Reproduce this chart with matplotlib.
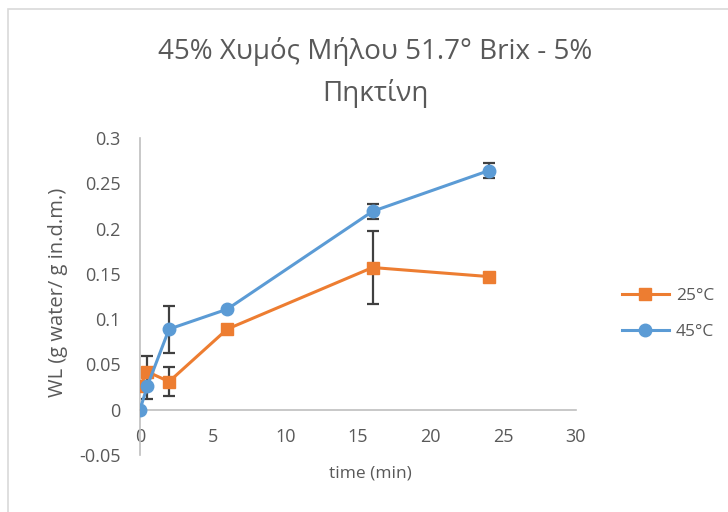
import numpy as np
import matplotlib
matplotlib.use('Agg')
import matplotlib.pyplot as plt
from matplotlib.patches import Rectangle

plt.rcParams['font.family'] = ['Open Sans', 'DejaVu Sans']

# drying time (min) and water loss for both temperatures
time = [0, 0.5, 2, 6, 16, 24]
wl_25 = [0.026, 0.042, 0.031, 0.089, 0.157, 0.147]
err_25 = [0, 0.017, 0.016, 0, 0.040, 0]
wl_45 = [0, 0.026, 0.089, 0.111, 0.219, 0.264]
err_45 = [0, 0.014, 0.026, 0, 0.008, 0.008]

orange = '#ED7D31'
blue = '#5B9BD5'
grey = '#595959'

fig = plt.figure(figsize=(7.28, 5.12), dpi=100)
# light frame round the whole chart
fig.patches.append(Rectangle((8/728, -0.1), 1.0, 1 - 9/512 + 0.1, transform=fig.transFigure,
                             fill=False, edgecolor='#d9d9d9', linewidth=1.2))
ax = fig.add_axes([140/728, 1 - 455/512, 436/728, 317/512])

def draw(t, y, e, color, marker, label, ms):
    t = np.array(t); y = np.array(y); e = np.array(e)
    m = e > 0
    ax.errorbar(t[m], y[m], yerr=e[m], fmt='none', ecolor='#404040', elinewidth=1.6,
                capsize=4, capthick=1.6, zorder=2)
    ax.plot(t, y, color=color, marker=marker, markersize=ms, linewidth=2.2,
            label=label, zorder=3)

draw(time, wl_25, err_25, orange, 's', '25°C', 8.5)
draw(time, wl_45, err_45, blue, 'o', '45°C', 9)

ax.set_xlim(0, 30)
ax.set_ylim(-0.05, 0.3)
ax.set_xticks(np.arange(0, 31, 5))
ax.set_yticks([-0.05, 0, 0.05, 0.1, 0.15, 0.2, 0.25, 0.3])
ax.set_yticklabels(['-0.05', '0', '0.05', '0.1', '0.15', '0.2', '0.25', '0.3'])
ax.spines['bottom'].set_position(('data', 0))
for s in ['top', 'right']:
    ax.spines[s].set_visible(False)
for s in ['left', 'bottom']:
    ax.spines[s].set_color('#bfbfbf')
    ax.spines[s].set_linewidth(1.2)
ax.tick_params(length=0, labelsize=13, labelcolor=grey, pad=13)
ax.tick_params(axis='y', pad=14)
ax.set_facecolor('none')

fig.text(375/728, 1 - 52/512, '45% Χυμός Μήλου 51.7° Brix - 5%', ha='center', va='center',
         fontsize=20, color=grey)
fig.text(375/728, 1 - 93/512, 'Πηκτίνη', ha='center', va='center', fontsize=20, color=grey)
fig.text(370/728, 1 - 474/512, 'time (min)', ha='center', va='center', fontsize=12.5, color=grey)
fig.text(58/728, 1 - 292/512, 'WL (g water/ g in.d.m.)', ha='center', va='center',
         rotation=90, fontsize=14.5, color=grey)

leg = fig.legend(loc='center left', bbox_to_anchor=(622/728, 1 - 314/512), frameon=False,
                 fontsize=12.5, handlelength=2.7, labelspacing=1.1, borderpad=0,
                 borderaxespad=0, handletextpad=0.4)
for t in leg.get_texts():
    t.set_color(grey)

fig.savefig('out.png', dpi=100)
